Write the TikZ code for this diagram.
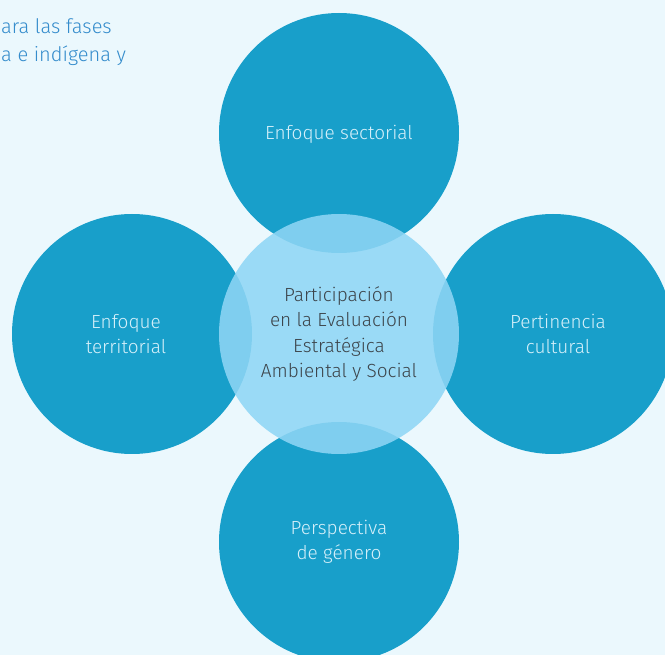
\documentclass[tikz,border=0pt]{standalone}
\usepackage{fontspec}
\setmainfont{Fira Sans Light}
\begin{document}
\begin{tikzpicture}[x=1pt,y=-1pt,
  bigc/.style={circle,fill=dark,minimum size=240pt,inner sep=0pt},
  lbl/.style={inner sep=0pt,text=pale,align=center,font=\fontsize{19}{24.5}\selectfont},
  midc/.style={circle,fill=mid,fill opacity=0.87,text opacity=1,minimum size=240pt,inner sep=0pt,text=ctext,align=center,font=\fontsize{19}{25.3}\selectfont},
  toptext/.style={anchor=base west,inner sep=0pt,text=tblue,font=\fontsize{20}{24}\selectfont}]
\definecolor{bg}{RGB}{235,248,253}
\definecolor{dark}{RGB}{24,159,202}
\definecolor{mid}{RGB}{143,214,245}
\definecolor{pale}{RGB}{214,240,250}
\definecolor{ctext}{RGB}{60,68,74}
\definecolor{tblue}{RGB}{52,140,204}
\fill[bg] (0,0) rectangle (665,655);
\useasboundingbox (0,0) rectangle (665,655);
\begin{scope}
\clip (0,0) rectangle (665,655);
\node[bigc] (top) at (339,133) {};
\node[bigc] (left) at (132,334) {};
\node[bigc] (right) at (553,334) {};
\node[bigc] (bottom) at (339,542) {};
\node[lbl] (toplbl) at ([yshift=-1pt]top.center) {Enfoque sectorial};
\node[lbl] (leftlbl) at ([xshift=-6pt]left.center) {Enfoque\\territorial};
\node[lbl] (rightlbl) at ([xshift=5pt]right.center) {Pertinencia\\cultural};
\node[lbl] (bottomlbl) at (bottom.center) {Perspectiva\\de género};
\node[midc] (center) at (339,334) {Participación\\en la Evaluación\\Estratégica\\Ambiental y Social};
\end{scope}
\node[toptext] (t1) at (1,34) {ara las fases};
\node[toptext] (t2) at (1,62) {a e indígena y};
\end{tikzpicture}
\end{document}
